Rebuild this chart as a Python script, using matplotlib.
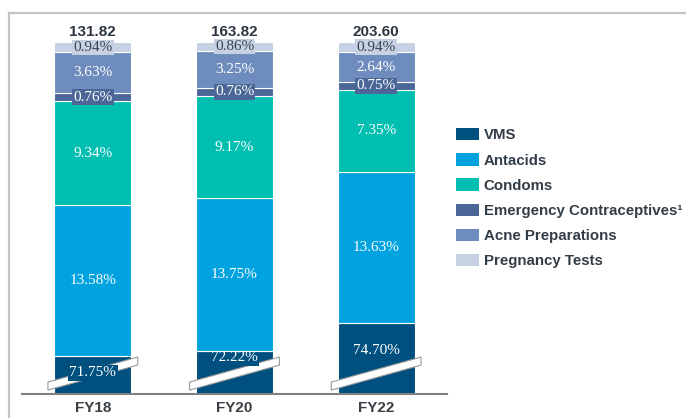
import matplotlib
matplotlib.use("Agg")
import matplotlib.pyplot as plt
from matplotlib.patches import Polygon, Patch
from matplotlib.lines import Line2D

# ---- data ----
years = ["FY18", "FY20", "FY22"]
totals = ["131.82", "163.82", "203.60"]
vms = [71.75, 72.22, 74.70]
antacids = [13.58, 13.75, 13.63]
condoms = [9.34, 9.17, 7.35]
emergency = [0.76, 0.76, 0.75]
acne = [3.63, 3.25, 2.64]
pregnancy = [0.94, 0.86, 0.94]

series_names = ["VMS", "Antacids", "Condoms", "Emergency Contraceptives\u00b9",
                "Acne Preparations", "Pregnancy Tests"]
colors = ["#00507f", "#00a3df", "#00bfb0", "#4b6798", "#6e8cbd", "#c6d1e3"]

# the VMS segment is drawn on a broken scale: values below this are cut away
axis_break = 68.35
# vertical placement of the VMS labels within the visible part of the segment
vms_label_y = [1.9, 3.25, 3.95]

W, H = 686, 418
fig = plt.figure(figsize=(W / 100, H / 100), dpi=100)
ax = fig.add_axes([22 / W, (H - 394) / H, (447 - 22) / W, 364 / H])
ax.set_xlim(-0.5, 2.5)
ax.set_ylim(0, 32.73)

x = list(range(len(years)))
bw = 0.542
serif = "Liberation Serif"
sans = "Liberation Sans"

# VMS (broken) at the bottom, drawn below the other segments
vms_shown = [v - axis_break for v in vms]
ax.bar(x, vms_shown, width=bw, color=colors[0], edgecolor="white", linewidth=0.8, zorder=1)

# break bands
for xi in x:
    dx, y0, y1, t = 0.317, 0.35, 2.6, 0.72
    poly = Polygon([(xi - dx, y0), (xi + dx, y1), (xi + dx, y1 + t), (xi - dx, y0 + t)],
                   closed=True, facecolor="white", edgecolor="#9a9a9a", linewidth=0.8,
                   zorder=2, clip_on=False)
    ax.add_patch(poly)

for xi, v, ly in zip(x, vms, vms_label_y):
    ax.text(xi, ly, f"{v:.2f}%", ha="center", va="center", color="white",
            fontsize=11, family=serif, zorder=3,
            bbox=dict(boxstyle="square,pad=0.1", facecolor=colors[0], edgecolor="none"))

# remaining segments on top
stack = [antacids, condoms, emergency, acne, pregnancy]
bottom = vms_shown[:]
label_styles = [
    ("white", None),
    ("white", None),
    ("white", colors[3]),
    ("white", None),
    ("#3a4450", colors[5]),
]
for k, vals in enumerate(stack):
    ax.bar(x, vals, width=bw, bottom=bottom, color=colors[k + 1],
           edgecolor="white", linewidth=0.8, zorder=4)
    tc, bc = label_styles[k]
    for xi, b, v in zip(x, bottom, vals):
        kw = {}
        if bc is not None:
            kw["bbox"] = dict(boxstyle="square,pad=0.08", facecolor=bc, edgecolor="none")
        ax.text(xi, b + v / 2, f"{v:.2f}%", ha="center", va="center", color=tc,
                fontsize=11, family=serif, zorder=6, **kw)
    bottom = [b + v for b, v in zip(bottom, vals)]

# totals above the bars
for xi, top, t in zip(x, bottom, totals):
    ax.annotate(t, (xi, top), xytext=(0, 2), textcoords="offset points",
                ha="center", va="bottom", fontsize=11, fontweight="bold",
                color="#2e3640", family=sans)

ax.set_xticks(x)
ax.set_xticklabels(years, fontsize=11, fontweight="bold", color="#3a3f45", family=sans)
ax.tick_params(axis="x", length=0, pad=5)
ax.set_yticks([])
for s in ["top", "right", "left"]:
    ax.spines[s].set_visible(False)
ax.spines["bottom"].set_color("#808080")
ax.spines["bottom"].set_linewidth(1.5)
ax.spines["bottom"].set_zorder(7)

# legend
handles = [Patch(facecolor=c, edgecolor="none") for c in colors]
fig.legend(handles, series_names, loc="upper left",
           bbox_to_anchor=(450 / W, 1 - 122 / H), frameon=False,
           prop=dict(family=sans, weight="bold", size=10.8),
           labelcolor="#333d47", handlelength=1.5, handleheight=0.9,
           handletextpad=0.35, labelspacing=0.72, borderaxespad=0)

# outer frame lines
fig.add_artist(Line2D([8.5 / W, 1], [1 - 12.5 / H] * 2, color="#c4c4c4", linewidth=1.6))
fig.add_artist(Line2D([8.5 / W] * 2, [0, 1 - 12.5 / H], color="#c4c4c4", linewidth=1.6))

fig.savefig("out.png", dpi=100)
